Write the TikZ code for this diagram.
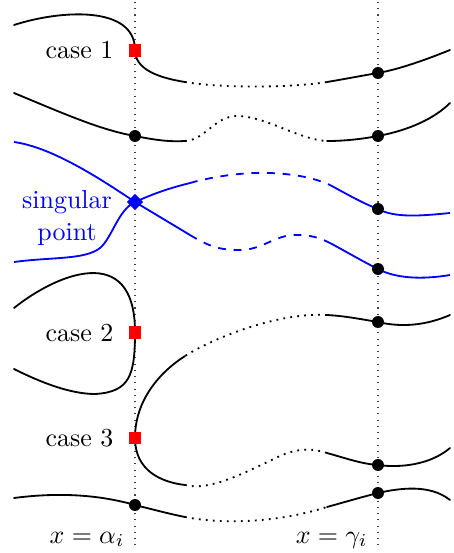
\documentclass[tikz,border=0pt]{standalone}
\usepackage{tikz}
\usetikzlibrary{shapes.geometric}
\usepackage{amsmath,amssymb}

\begin{document}
\begin{tikzpicture}[x=0.385pt, y=-0.385pt,
    curve/.style={line width=0.7pt, line cap=round},
    hidden/.style={line width=0.7pt, dotted},
    sgcurve/.style={line width=0.7pt, blue},
    sghidden/.style={line width=0.7pt, blue, dashed},
    dotpt/.style={circle, fill=black, inner sep=0pt, minimum size=4.6pt},
    crit/.style={rectangle, fill=red, inner sep=0pt, minimum size=5pt},
    sing/.style={diamond, fill=blue, inner sep=0pt, minimum size=6.4pt},
    lbl/.style={inner sep=0pt}]
  \useasboundingbox (0,0) rectangle (454,553);

  %% Vertical lines x = alpha_i and x = gamma_i
  \coordinate (aTop) at (135,2);   \coordinate (aBot) at (135,550);
  \coordinate (gTop) at (378,2);   \coordinate (gBot) at (378,550);
  \draw[dotted, thin, black!75] (aTop) -- (aBot);
  \draw[dotted, thin, black!75] (gTop) -- (gBot);

  %% Points on x = alpha_i
  \coordinate (c1) at (135,50);
  \coordinate (a2) at (135,136);
  \coordinate (sp) at (135,202);
  \coordinate (c2) at (135,332);
  \coordinate (c3) at (135,438);
  \coordinate (a6) at (135,505);
  %% Points on x = gamma_i
  \foreach \n/\y in {1/73, 2/136, 3/209, 4/269, 5/322, 6/465, 7/493}{
    \coordinate (g\n) at (378,\y);
  }
  %% Ends of the hidden parts
  \coordinate (h1a) at (185,82);  \coordinate (h1b) at (327,82);
  \coordinate (h2a) at (185,141); \coordinate (h2b) at (327,141);
  \coordinate (h3a) at (190,183); \coordinate (h3b) at (330,185);
  \coordinate (h4a) at (190,235); \coordinate (h4b) at (330,243);
  \coordinate (h5a) at (185,356); \coordinate (h5b) at (327,315);
  \coordinate (h6a) at (185,485); \coordinate (h6b) at (327,453);
  \coordinate (h7a) at (185,517); \coordinate (h7b) at (327,507);

  %% ── case 1 ──────────────────────────────────────────────
  \draw[curve] (14,25) .. controls (60,10) and (135,5) .. (c1)
    .. controls (135,70) and (160,78) .. (h1a);
  \draw[hidden] (h1a) .. controls (220,88) and (290,88) .. (h1b);
  \draw[curve] (h1b) .. controls (345,79) and (360,76) .. (g1)
    .. controls (400,69) and (425,60) .. (450,50);

  %% ── regular branch ──────────────────────────────────────
  \draw[curve] (14,93) .. controls (60,112) and (100,130) .. (a2)
    .. controls (155,140) and (170,142) .. (h2a);
  \draw[hidden] (h2a) .. controls (205,140) and (215,116) .. (237,116)
    .. controls (265,116) and (300,140) .. (h2b);
  \draw[curve] (h2b) .. controls (345,141) and (362,139) .. (g2)
    .. controls (410,130) and (435,118) .. (450,103);

  %% ── singular point (blue) ───────────────────────────────
  \draw[sgcurve] (14,142) .. controls (50,147) and (95,175) .. (sp) -- (h4a);
  \draw[sghidden] (h4a) .. controls (210,247) and (220,250) .. (240,250)
    .. controls (262,250) and (275,235) .. (295,235)
    .. controls (310,235) and (318,237) .. (h4b);
  \draw[sgcurve] (h4b) .. controls (345,251) and (362,261) .. (g4)
    .. controls (395,278) and (420,280) .. (450,275);

  \draw[sgcurve] (14,262) .. controls (50,257) and (85,260) .. (100,248)
    .. controls (112,238) and (118,210) .. (sp)
    .. controls (155,193) and (170,188) .. (h3a);
  \draw[sghidden] (h3a) .. controls (215,176) and (245,172) .. (270,173)
    .. controls (295,174) and (315,178) .. (h3b);
  \draw[sgcurve] (h3b) .. controls (345,193) and (362,203) .. (g3)
    .. controls (395,218) and (420,216) .. (450,213);

  %% ── case 2 ──────────────────────────────────────────────
  \draw[curve] (14,308) .. controls (55,275) and (135,240) .. (c2)
    .. controls (135,375) and (130,392) .. (95,394)
    .. controls (70,394) and (40,382) .. (14,369);

  %% ── case 3 ──────────────────────────────────────────────
  \draw[hidden] (h5b) .. controls (280,312) and (215,337) .. (h5a);
  \draw[curve] (h5a) .. controls (160,372) and (135,400) .. (c3)
    .. controls (135,470) and (160,482) .. (h6a);
  \draw[hidden] (h6a) .. controls (210,492) and (250,470) .. (280,456)
    .. controls (300,447) and (315,449) .. (h6b);
  \draw[curve] (h5b) .. controls (345,316) and (360,319) .. (g5)
    .. controls (395,326) and (420,328) .. (450,315);
  \draw[curve] (h6b) .. controls (345,458) and (362,464) .. (g6)
    .. controls (400,468) and (430,465) .. (450,448);

  %% ── lowest branch ───────────────────────────────────────
  \draw[curve] (14,498) .. controls (60,492) and (100,495) .. (a6)
    .. controls (155,510) and (170,514) .. (h7a);
  \draw[hidden] (h7a) .. controls (215,523) and (270,525) .. (h7b);
  \draw[curve] (h7b) .. controls (345,502) and (362,497) .. (g7)
    .. controls (400,488) and (430,484) .. (450,500);

  %% Markers
  \foreach \p in {a2, a6, g1, g2, g3, g4, g5, g6, g7}{
    \node[dotpt] (m\p) at (\p) {};
  }
  \foreach \p in {c1, c2, c3}{
    \node[crit] (m\p) at (\p) {};
  }
  \node[sing] (msp) at (sp) {};

  %% Labels
  \node[lbl, anchor=east] (l1) at (114,50) {case 1};
  \node[lbl, anchor=east] (l2) at (114,333) {case 2};
  \node[lbl, anchor=east] (l3) at (114,438) {case 3};
  \node[lbl, blue, align=center] (lsp) at (67,218) {singular\\point};
  \node[lbl, anchor=base east] (lal) at (125,543) {$x=\alpha_i$};
  \node[lbl, anchor=base east] (lga) at (368,543) {$x=\gamma_i$};
\end{tikzpicture}
\end{document}
